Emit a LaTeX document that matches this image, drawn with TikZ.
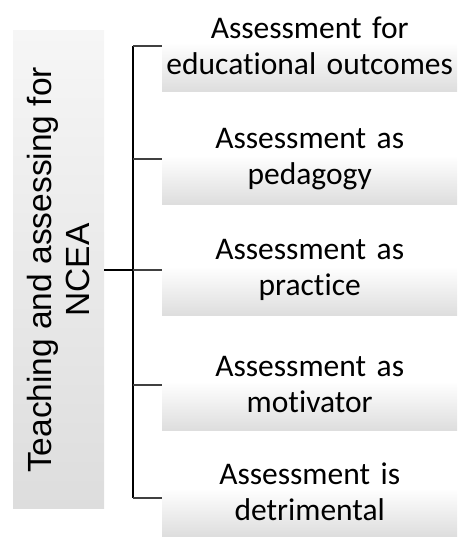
\documentclass[tikz,border=0pt]{standalone}
\usepackage{fontspec}
\setmainfont{Carlito}[Ligatures=NoCommon]
\newfontfamily\labfont{Liberation Sans}
\definecolor{boxgray}{RGB}{221,221,221}
\definecolor{rootlight}{RGB}{246,246,246}
\pgfdeclareverticalshading{leafshade}{100bp}{color(0bp)=(boxgray); color(25bp)=(boxgray); color(52bp)=(white); color(100bp)=(white)}
\pgfdeclareverticalshading{rootshade}{100bp}{color(0bp)=(boxgray); color(25bp)=(boxgray); color(75bp)=(rootlight); color(100bp)=(rootlight)}
\begin{document}
\begin{tikzpicture}[x=1pt,y=1pt,
  leafbox/.style={rectangle, inner sep=0pt, minimum width=295pt, minimum height=92pt,
    shading=leafshade, draw=none, anchor=west,
    text width=293pt, align=center, font=\fontsize{31.5}{36}\selectfont},
  rootbox/.style={rectangle, inner sep=0pt, minimum width=91pt, minimum height=478pt,
    shading=rootshade, draw=none},
  roottext/.style={rotate=90, align=center, inner sep=0pt, font=\labfont\fontsize{33.5}{38}\selectfont},
  busline/.style={line width=1.3pt, black},
  stub/.style={line width=1.3pt, black!75}]
\useasboundingbox (0,0) rectangle (457,537);
\node[rootbox] (root) at (58.5,267) {};
\node[roottext] (roottxt) at (root.center) {Teaching and assessing for\\NCEA};
\node[leafbox] (b1) at (162,491) {Assessment for\\educational outcomes};
\node[leafbox] (b2) at (162,378) {Assessment as\\pedagogy};
\node[leafbox] (b3) at (162,267) {Assessment as\\practice};
\node[leafbox] (b4) at (162,152) {Assessment as\\motivator};
\node[leafbox, minimum height=90pt] (b5) at (162,45) {Assessment is\\detrimental};
\coordinate (j) at (133,267);
\coordinate (t1) at (133,491);
\coordinate (t5) at (133,39);
\draw[busline] (root.east) -- (j);
\draw[busline] (t1) -- (t5);
\draw[stub] (t1) -- (b1.west);
\draw[stub] (133,378) -- (b2.west);
\draw[stub] (j) -- (b3.west);
\draw[stub] (133,152) -- (b4.west);
\draw[stub] (t5) -- (t5 -| b5.west);
\end{tikzpicture}
\end{document}
